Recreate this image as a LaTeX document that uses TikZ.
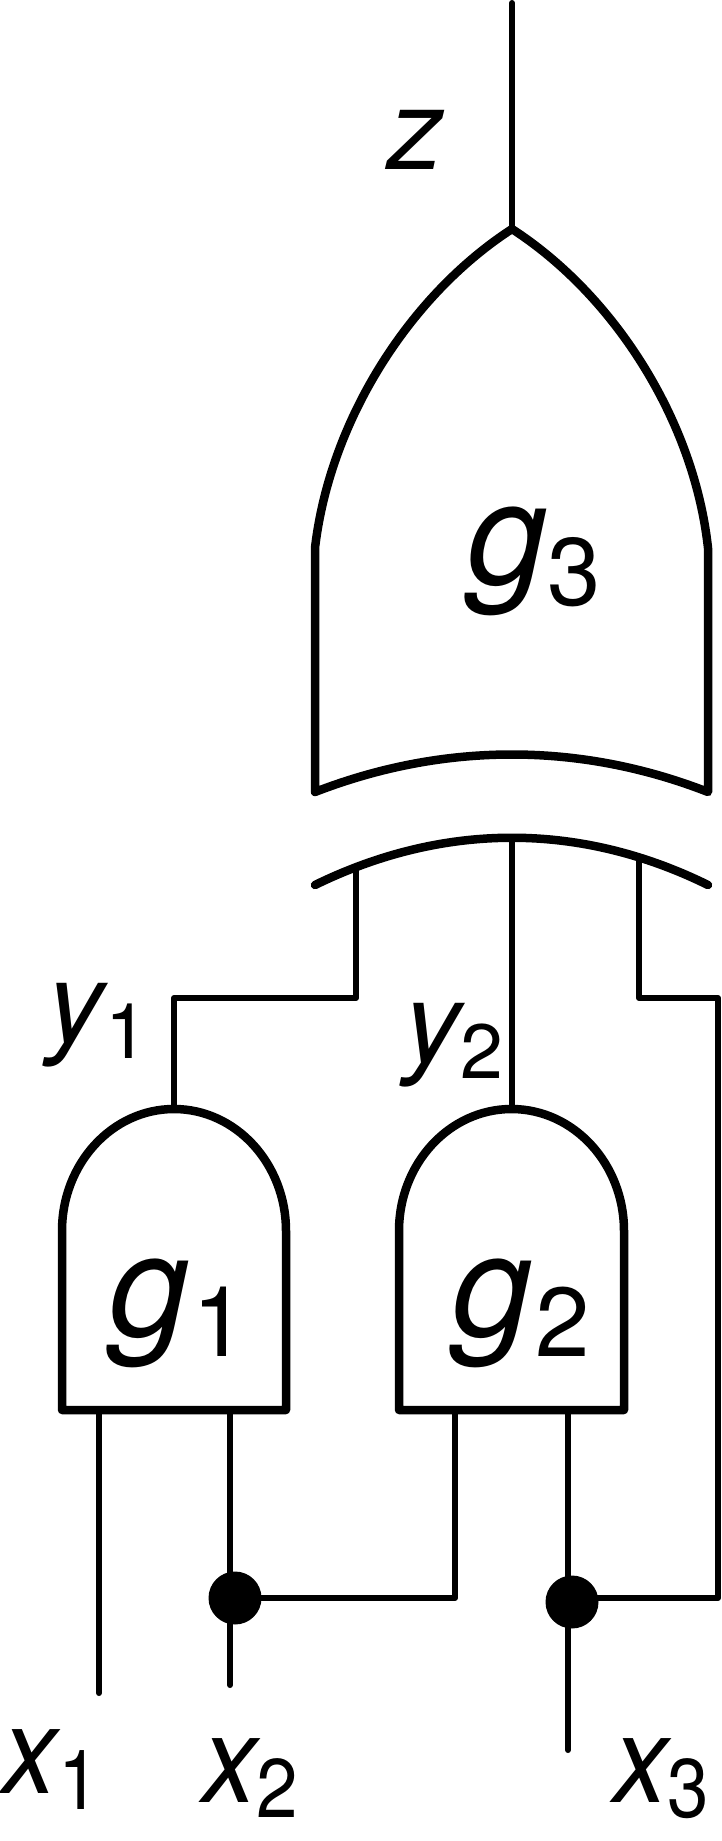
\documentclass[tikz,border=0pt]{standalone}
\usepackage{fontspec}
\setmainfont{TeX Gyre Heros}
\newcommand{\lbl}[6]{{\fontsize{#1}{#1}\selectfont\itshape #2}\kern#6pt\raisebox{-#4pt}{\fontsize{#3}{#3}\selectfont #5}}
\tikzset{
  gateline/.style={line width=8.5pt,line cap=round,line join=round},
  wire/.style={line width=6pt,line cap=round,line join=round},
  dot/.style={circle,fill=black,inner sep=0pt,minimum size=53pt},
  label/.style={inner sep=0pt,outer sep=0pt,anchor=base west},
  tall/.style={xscale=.97,yscale=1.08,transform shape}
}
\begin{document}
\begin{tikzpicture}[x=1pt,y=-1pt]
\useasboundingbox (0,0) rectangle (721,1841);
% output
\coordinate (zend) at (512,3);
\coordinate (apex) at (512,229);
% XOR/OR gate g3
\coordinate (g3lb) at (315,792);
\coordinate (g3lt) at (315,548);
\coordinate (g3rt) at (708,548);
\coordinate (g3rb) at (708,792);
\draw[gateline] (g3lb) -- (g3lt) .. controls (330,420) and (410,295) .. (apex)
  .. controls (614,295) and (694,420) .. (g3rt) -- (g3rb)
  .. controls (580,742) and (444,742) .. (g3lb);
% input arc
\coordinate (arcl) at (315,885);
\coordinate (arcr) at (708,885);
\draw[gateline] (arcl) .. controls (444,822) and (580,822) .. (arcr);
% pins on arc
\coordinate (a1) at (356,871);
\coordinate (a2) at (512,840);
\coordinate (a3) at (639,860);
% bends
\coordinate (b1) at (356,998);
\coordinate (b1l) at (174,998);
\coordinate (b3) at (639,998);
\coordinate (b3r) at (718,998);
\coordinate (b3d) at (718,1598);
% AND gates
\coordinate (g1top) at (174,1109);
\coordinate (g2top) at (512,1109);
\draw[gateline] (62,1410) -- (62,1231) arc[start angle=180,end angle=0,x radius=112,y radius=-122] -- (286,1410) -- cycle;
\draw[gateline] (399,1410) -- (399,1231) arc[start angle=180,end angle=0,x radius=112.5,y radius=-122] -- (624,1410) -- cycle;
% pins
\coordinate (p1) at (99,1410);
\coordinate (e1) at (99,1693);
\coordinate (p2) at (230,1410);
\coordinate (e2) at (230,1685);
\coordinate (p3) at (455,1410);
\coordinate (c3) at (455,1598);
\coordinate (p4) at (568,1410);
\coordinate (e4) at (568,1750);
\node[dot] (j1) at (235,1598) {};
\node[dot] (j2) at (572,1602) {};
% wires
\draw[wire] (zend) -- (apex);
\draw[wire] (a1) -- (b1) -- (b1l) -- (g1top);
\draw[wire] (a2) -- (g2top);
\draw[wire] (a3) -- (b3) -- (b3r) -- (b3d) -- (j2.center |- b3d);
\draw[wire] (p1) -- (e1);
\draw[wire] (p2) -- (e2);
\draw[wire] (p3) -- (c3) -- (j1.center |- c3);
\draw[wire] (p4) -- (e4);
% labels
\node[label] (lz) at (387,169) {\fontsize{113}{113}\selectfont\itshape z};
\node[label] (lg3) at (467,584) {\lbl{144}{g}{96}{21}{3}{0}};
\node[label] (lg1) at (109,1336) {\lbl{144}{g}{98}{20}{1}{3}};
\node[label] (lg2) at (452,1336) {\lbl{144}{g}{98}{20}{2}{3}};
\node[label] (ly1) at (47,1042) {\lbl{113}{y}{77}{16}{1}{2}};
\node[label] (ly2) at (404,1062) {\lbl{113}{y}{77}{16}{2}{0}};
\node[label,tall] (lx1) at (2,1793) {\lbl{113}{x}{77}{15}{1}{2}};
\node[label,tall] (lx2) at (202,1802) {\lbl{113}{x}{77}{14}{2}{0}};
\node[label,tall] (lx3) at (613,1802) {\lbl{113}{x}{77}{14}{3}{0}};
\end{tikzpicture}
\end{document}
